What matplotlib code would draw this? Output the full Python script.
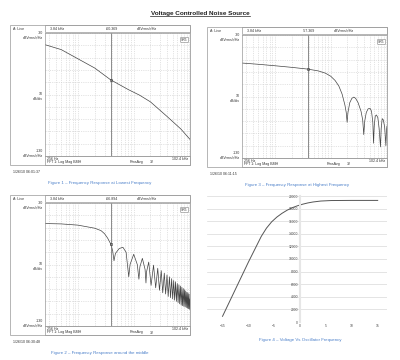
import numpy as np
import matplotlib
matplotlib.use("Agg")
import matplotlib.pyplot as plt
from matplotlib.patches import Rectangle
from matplotlib.lines import Line2D

plt.rcParams['font.family'] = ['Liberation Sans', 'DejaVu Sans']

# ---- data ----
# Figure 1 - lowest frequency (Hz, dBVrms/rtHz)
low_f = [256, 500, 1000, 2000, 3840, 8000, 12700, 20000, 40000, 70000, 102400]
low_db = [-39.5, -43.5, -51, -58.5, -68, -76, -80.5, -86, -98, -108, -116.5]

# Figure 3 - highest frequency
high_f = [256, 500, 1000, 2000, 3840, 6000, 8000, 10000, 12000, 14000, 16000,
          18000, 19000, 19700, 20400, 22000, 24000, 26000, 28000, 31000, 35000,
          37500, 39200, 40800, 43500, 47000, 51000, 54000, 57000, 58700, 60400,
          63000, 66000, 70000, 74000, 78200, 80500, 84000, 88000, 93000, 97800,
          100000, 102400]
high_db = [-52.8, -53.8, -55, -56.3, -57.7, -59.2, -61, -63.5, -67, -71.5, -78,
           -87, -93, -101, -93, -85, -81.5, -80.5, -81.5, -85, -92,
           -99, -111, -100, -93, -90, -89.7, -92, -101, -118, -104,
           -96, -95, -97, -106, -121, -106, -98, -99, -105, -120,
           -108, -104]

# Figure 2 - around the middle
mid_f = [256, 500, 1000, 2000, 2600, 3000, 3400, 3840, 4200, 4430, 4700, 5500,
         6400, 7300, 8150, 8600, 10000, 11600, 12400, 12900, 14300, 16000,
         16600, 17000, 18600, 20500, 22700, 24800, 27000, 29000, 31200, 33200,
         35400, 37400, 39600, 41600, 43800, 45800, 48000, 50000, 52200, 54200,
         56400, 58400, 60600, 62600, 64800, 66800, 69000, 71000, 73200, 75200,
         77400, 79400, 81600, 83600, 85800, 87800, 90000, 92000, 94200, 96200,
         98400, 100400, 102400]
mid_db = [-46.7, -47, -48, -50.5, -52.5, -55, -58.5, -63, -69, -77, -71, -67,
          -66, -70, -90, -80, -71.7, -80, -92, -82, -75, -84,
          -95, -86, -78, -97, -80.5, -99, -83, -101, -85, -103,
          -87, -104, -88.5, -106, -90, -107, -91.5, -108, -93, -109,
          -94, -110, -95.5, -111, -96.5, -112, -97.5, -113, -98.5, -113.5,
          -99.5, -114, -100.5, -114.5, -101.5, -115, -102.5, -115.5, -103, -116,
          -104, -116.5, -108]

# Figure 4 - voltage vs oscillator frequency
volt = [-15, -12.5, -10, -7.5, -6.5, -5.5, -4.5, -3.5, -2.5, -1.5, -0.5, 0.5,
        1.5, 2.5, 4, 6, 10, 15]
osc_freq = [900, 5200, 9500, 13600, 14900, 15900, 16650, 17250, 17750, 18150,
            18450, 18700, 18900, 19050, 19200, 19280, 19300, 19300]

W, H = 400, 360
fig = plt.figure(figsize=(4, 3.6), dpi=100)


def fx(x):
    return x / W


def fy(y):
    return 1 - y / H


def rect(x0, y0, x1, y1):
    return [fx(x0), fy(y1), (x1 - x0) / W, (y1 - y0) / H]


def txt(x, y, s, **kw):
    kw.setdefault('fontsize', 2.6)
    kw.setdefault('color', '#333333')
    kw.setdefault('va', 'center')
    fig.text(fx(x), fy(y), s, **kw)


def box(x0, y0, x1, y1, ec='#999999', lw=0.5, fc='none'):
    fig.add_artist(Rectangle((fx(x0), fy(y1)), (x1 - x0) / W, (y1 - y0) / H,
                             transform=fig.transFigure, ec=ec, fc=fc, lw=lw))


def analyzer(ox, oy, freqs, dbs, value, stamp, caption):
    col = ox + 35
    box(ox, oy, ox + 180, oy + 140, ec='#aaaaaa', lw=0.6)
    box(col, oy, ox + 180, oy + 7, ec='#999999', lw=0.5)
    box(col, oy + 131, ox + 180, oy + 140, ec='#999999', lw=0.5)

    ax = fig.add_axes(rect(col, oy + 8, ox + 180, oy + 131))
    ax.semilogx(freqs, dbs, color='#444444', lw=0.5)
    ax.set_xlim(256, 102400)
    ax.set_ylim(-130, -30)
    ax.set_yticks(np.arange(-130, -29, 10))
    ax.set_xticks([300, 400, 500, 600, 700, 800, 900, 1000, 2000, 3000, 4000,
                   5000, 6000, 7000, 8000, 9000, 10000, 20000, 30000, 40000,
                   50000, 60000, 70000, 80000, 90000, 100000], minor=False)
    ax.minorticks_off()
    ax.grid(True, color='#cccccc', lw=0.4, ls=(0, (2, 2)))
    ax.tick_params(length=0, labelbottom=False, labelleft=False)
    for sp in ax.spines.values():
        sp.set_color('#999999')
        sp.set_linewidth(0.5)
    ax.axvline(3840, color='#777777', lw=0.6)
    ax.plot([3840], [np.interp(np.log10(3840), np.log10(freqs), dbs)], 's',
            ms=1.6, mfc='none', mec='#333333', mew=0.4)
    ax.text(0.985, 0.96, 'SR5', transform=ax.transAxes, fontsize=2.4,
            ha='right', va='top', color='#333333',
            bbox=dict(boxstyle='round,pad=0.2', fc='white', ec='#555555', lw=0.3))

    # header and left column
    txt(col + 5, oy + 3.5, '3.84 kHz')
    txt(ox + 96, oy + 3.5, value)
    txt(ox + 127, oy + 3.5, 'dBVrms/√Hz')
    txt(ox + 3, oy + 3.5, 'A: Live')
    txt(col - 2, oy + 8.5, '-30', ha='right')
    txt(col - 2, oy + 13, 'dBVrms/√Hz', ha='right')
    txt(col - 2, oy + 69, '10', ha='right')
    txt(col - 2, oy + 74, 'dB/div', ha='right')
    txt(col - 2, oy + 126, '-130', ha='right')
    txt(col - 2, oy + 131, 'dBVrms/√Hz', ha='right')
    # footer
    txt(col + 2, oy + 133.5, '256 Hz')
    txt(ox + 178, oy + 133.5, '102.4 kHz', ha='right')
    txt(col + 2, oy + 137.5, 'FFT 1: Log Mag BMH')
    txt(ox + 120, oy + 137.5, 'RmsAvg')
    txt(ox + 140, oy + 137.5, '32')
    txt(ox + 3, oy + 147, stamp)
    txt(ox + 90, oy + 158, caption, fontsize=3.2, color='#4a7fc9', ha='center')


# title
fig.text(0.5, fy(13), 'Voltage Controlled Noise Source', ha='center', va='center',
         fontsize=4.6, fontweight='bold', color='#222222')
fig.add_artist(Line2D([fx(150), fx(250)], [fy(16), fy(16)],
                      transform=fig.transFigure, color='#222222', lw=0.5))

analyzer(10, 25, low_f, low_db, '-60.369', '1/26/10 06:01:37',
         'Figure 1 \u2013 Frequency Response at Lowest Frequency')
analyzer(207, 27, high_f, high_db, '-57.369', '1/26/10 06:11:15',
         'Figure 3 \u2013 Frequency Response at Highest Frequency')
analyzer(10, 195, mid_f, mid_db, '-66.894', '1/26/10 06:30:48',
         'Figure 2 \u2013 Frequency Response around the middle')

# Figure 4 - Excel style line chart
ax4 = fig.add_axes(rect(207, 196, 387, 322))
ax4.plot(volt, osc_freq, color='#555555', lw=0.7)
ax4.set_xlim(-18, 16.8)
ax4.set_ylim(0, 20000)
ax4.set_yticks(np.arange(0, 20001, 2000))
ax4.set_xticks([-15, -10, -5, 0, 5, 10, 15])
ax4.grid(True, axis='y', color='#d9d9d9', lw=0.5)
for name in ['top', 'right', 'bottom']:
    ax4.spines[name].set_visible(False)
ax4.spines['left'].set_position(('data', 0))
ax4.spines['left'].set_color('#e6e6e6')
ax4.spines['left'].set_linewidth(1.5)
ax4.tick_params(length=0, labelsize=2.4, labelcolor='#444444', pad=1.5)
ax4.set_axisbelow(True)
fig.text(fx(300), fy(340), 'Figure 4 \u2013 Voltage Vs Oscillator Frequency',
         ha='center', va='center', fontsize=3.2, color='#4a7fc9')

fig.savefig('out.png', dpi=100, facecolor='white')
